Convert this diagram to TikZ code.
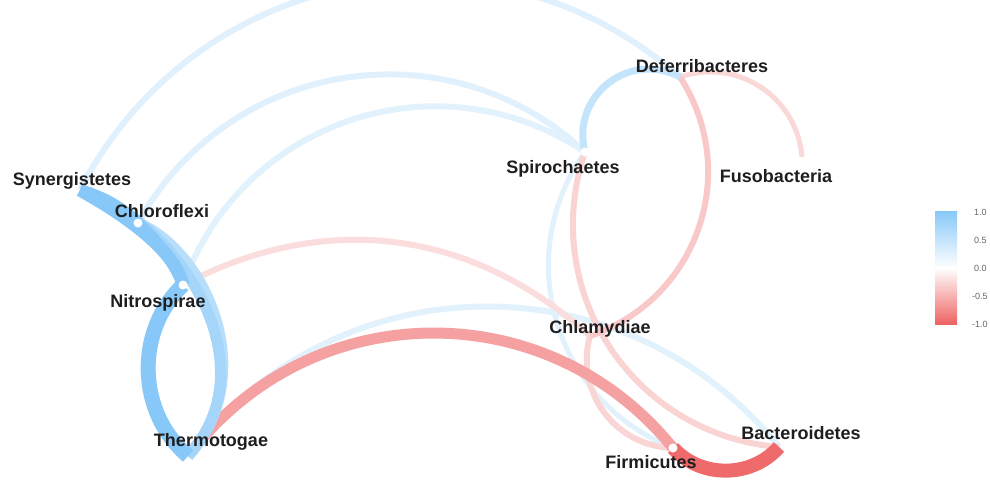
\documentclass[tikz,border=0pt]{standalone}
\usepackage{fontspec}
\setmainfont{Liberation Sans}
\definecolor{posblue}{RGB}{135,200,248}
\definecolor{negred}{RGB}{238,99,99}
\definecolor{labelink}{RGB}{30,30,30}
\begin{document}
\begin{tikzpicture}[x=1pt,y=1pt,
  edge/.style={line cap=butt, line join=round},
  arcL/.style={bend left=52, looseness=1.06},
  arcR/.style={bend right=52, looseness=1.06},
  lbl/.style={font=\bfseries\fontsize{18}{20}\selectfont, text=labelink, inner sep=0pt, anchor=base},
  ticklbl/.style={font=\fontsize{9}{10}\selectfont, text=black!60, inner sep=0pt, anchor=west}]

\useasboundingbox (0,0) rectangle (990,-483);
\fill[white] (0,0) rectangle (990,-483);

% phylum positions
\coordinate (syn)  at (80,-190);
\coordinate (chl)  at (138,-223);
\coordinate (nit)  at (183,-285);
\coordinate (the)  at (188,-456);
\coordinate (spi)  at (585,-152);
\coordinate (def)  at (680,-77);
\coordinate (fus)  at (802,-157);
\coordinate (chla) at (590,-336);
\coordinate (firm) at (673,-448);
\coordinate (bac)  at (779,-447);

% weak correlations first
\draw[edge, line width=6, color=posblue!26] (syn) to[arcL] (def);
\draw[edge, line width=6, color=posblue!26] (chl) to[arcL] (spi);
\draw[edge, line width=6, color=posblue!24] (nit) to[arcL] (spi);
\draw[edge, line width=6, color=posblue!24] (the) to[arcL] (bac);
\draw[edge, line width=5, color=posblue!24] (spi) to[arcR] (firm);
\draw[edge, line width=6, color=negred!22] (nit) to[bend left=35, looseness=1] (chla);
\draw[edge, line width=5, color=negred!25] (def) to[arcL] (fus);
\draw[edge, line width=6, color=negred!27] (chla) to[arcR] (firm);
\draw[edge, line width=6, color=negred!28] (spi) to[arcR] (bac);
\draw[edge, line width=6, color=negred!35] (def) to[arcL] (chla);
\draw[edge, line width=7, color=posblue!50] (spi) to[bend left=66, looseness=1.22] (def);
\draw[edge, line width=11, color=negred!60] (the) to[arcL] (firm);

% strong correlations on top
\draw[edge, line width=11, color=posblue!60] (chl) .. controls (205,-250) and (262,-375) .. (the);
\draw[edge, line width=11, color=posblue!75] (syn) .. controls (170,-215) and (275,-360) .. (the);
\draw[edge, line width=13, color=posblue] (syn) .. controls (125,-215) and (175,-250) .. (nit);
\draw[edge, line width=12, color=posblue] (syn) to[bend left=12] (chl);
\draw[edge, line width=11, color=posblue] (chl) to[bend left=12] (nit);
\draw[edge, line width=15, color=posblue] (nit) to[bend right=48, looseness=1.0] (the);
\draw[edge, line width=14, color=negred!95] (firm) to[bend right=48, looseness=1.0] (bac);

% node points
\foreach \p in {chl,nit,spi,firm}
  \fill[white] (\p) circle (4.5);

% labels
\node[lbl] (lsyn)  at (72,-185)  {Synergistetes};
\node[lbl] (lchl)  at (162,-217) {Chloroflexi};
\node[lbl] (lnit)  at (158,-307) {Nitrospirae};
\node[lbl] (lthe)  at (211,-446) {Thermotogae};
\node[lbl] (lspi)  at (563,-173) {Spirochaetes};
\node[lbl] (ldef)  at (702,-72)  {Deferribacteres};
\node[lbl] (lfus)  at (776,-182) {Fusobacteria};
\node[lbl] (lchla) at (600,-333) {Chlamydiae};
\node[lbl] (lbac)  at (801,-439) {Bacteroidetes};
\node[lbl] (lfirm) at (651,-468) {Firmicutes};

% colour bar
\shade[bottom color=white, top color=posblue] (935,-268) rectangle (957,-211);
\shade[top color=white, bottom color=negred] (935,-268.2) rectangle (957,-324);
\node[ticklbl] (t1)  at (974,-212.5) {1.0};
\node[ticklbl] (t2)  at (974,-240.6) {0.5};
\node[ticklbl] (t3)  at (974,-268.5) {0.0};
\node[ticklbl] (t4)  at (972,-296.6) {-0.5};
\node[ticklbl] (t5)  at (972,-324.7) {-1.0};
\end{tikzpicture}
\end{document}
